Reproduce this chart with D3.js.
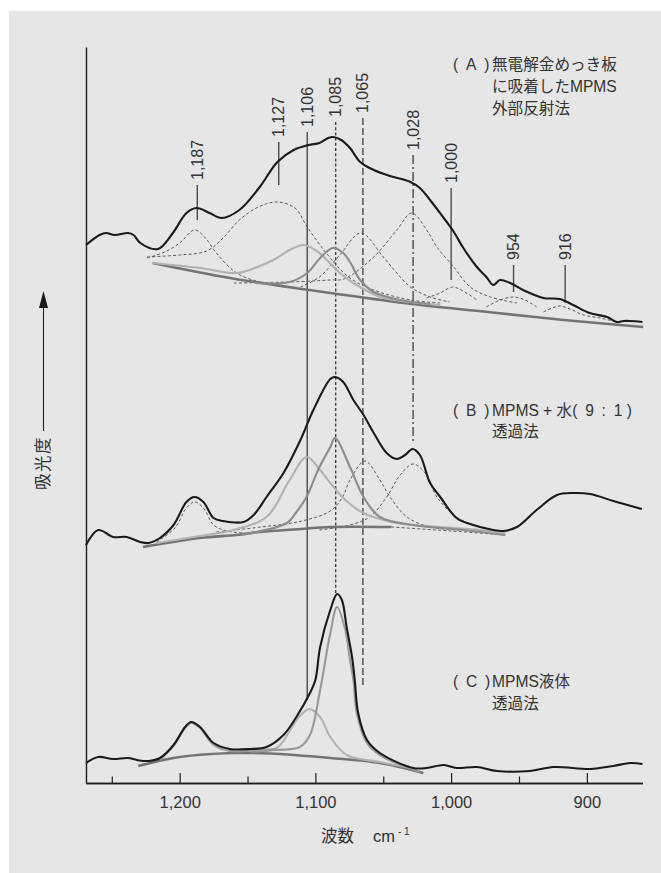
<!DOCTYPE html>
<html>
<head>
<meta charset="utf-8">
<script src="https://cdn.jsdelivr.net/npm/d3@7"></script>
<style>
  html, body { margin: 0; padding: 0; background: #fff; }
  svg { display: block; }
  text { font-family: "Liberation Sans", Arial, "Noto Sans CJK JP", sans-serif; fill: #333; }
</style>
</head>
<body>
<div id="chart"></div>
<script>
// axis ranges (wavenumber cm-1, absorbance in arbitrary units)
const wnDomain = [1269, 859];
const absDomain = [0, 73.6];
const majorTicks = [1200, 1100, 1000, 900];
const minorTicks = [1250, 1150, 1050, 950];

// (A) spectrum, baseline and fitted bands  [wavenumber, absorbance]
const specA = [[1269,53.8],[1259,54.8],[1254,55.0],[1248,54.8],[1238,55.0],[1234,54.8],[1229,54.0],[1216,53.4],[1205,55.0],[1195,57.0],[1187.5,57.5],[1178,57.0],[1169,56.5],[1156,57.3],[1141,59.6],[1128,62.1],[1116,63.3],[1105,63.8],[1097,64.0],[1090.5,64.5],[1087,64.6],[1081,64.3],[1074.5,63.5],[1067,62.1],[1057,61.3],[1045,60.7],[1030,60.1],[1023,59.5],[1015.5,58.3],[1006,56.6],[998,55.1],[991,53.5],[981,51.6],[974,50.6],[969,49.8],[964,50.3],[956.5,50.0],[947,49.3],[932,48.5],[920,48.4],[910,47.8],[898,47.0],[885,46.6],[878,46.1],[873,46.2],[868,46.2],[859,46.1]];
const baseA = [[1220,52.0],[1163,50.5],[1104.5,49.3],[1089,49.0],[1029,47.9],[966,47.0],[917,46.3],[858.5,45.6]];
const bandsA = [
  [[1224,52.5],[1211,53.1],[1200,54.0],[1189,55.3],[1181,54.5],[1173,53.0],[1158,51.0],[1141,50.1],[1126,49.8]],
  [[1224,52.6],[1200,52.8],[1180,53.2],[1168,54.5],[1156,56.3],[1142,57.6],[1128.5,58.1],[1115,57.5],[1106,55.6],[1092,53.0],[1075.5,50.6],[1057,49.3],[1030,48.3],[1008,48.0]],
  [[1111,49.6],[1097,50.6],[1082,52.8],[1066.5,55.0],[1050,52.6],[1040,51.0],[1030,49.6],[1015.5,48.6],[1001,48.1]],
  [[1160,50.0],[1119,50.1],[1089,50.3],[1079,50.4],[1057,52.6],[1040,55.3],[1029,57.0],[1018,55.3],[1010.5,53.6],[998,51.6],[986,49.6],[971,48.6],[951.5,48.0]],
  [[1018,48.5],[1008,49.0],[999,49.6],[990,49.1],[981,48.3]],
  [[974,47.6],[964,48.3],[954,48.6],[945.5,48.3],[937,47.6]],
  [[932,47.1],[925.5,47.5],[920,47.7],[912.5,47.4],[902.5,46.8],[890,46.5],[878,46.1]]
];
const lightA = [[1220,52.0],[1185,51.5],[1158,51.0],[1144.5,51.5],[1131,52.3],[1119,53.3],[1109,53.8],[1100,53.3],[1091.5,52.3],[1082,51.0],[1072,50.0],[1052,48.6],[1030,48.1],[1008,47.8]];
const mediumA = [[1144.5,50.0],[1119,50.1],[1106,51.0],[1096.5,52.5],[1087,53.5],[1079.5,53.0],[1074.5,52.1],[1067,50.3],[1057,49.1],[1037.5,48.3],[1015.5,47.9]];

// (B)
const specB = [[1269,23.8],[1260,25.3],[1249,24.6],[1239,24.6],[1229,24.1],[1223,24.0],[1214.5,24.5],[1204.5,25.8],[1195,28.1],[1189,28.6],[1182.5,28.1],[1175,26.5],[1168,26.2],[1153,26.1],[1145.5,26.8],[1136,28.6],[1123.5,31.0],[1111,34.3],[1101.5,37.3],[1089,40.4],[1085.5,40.6],[1079.5,40.1],[1072,38.3],[1064.5,36.8],[1057,35.0],[1047.5,33.0],[1040,32.4],[1034,32.8],[1028.5,33.4],[1023,32.8],[1015.5,30.0],[1008,28.6],[996,26.5],[986,25.9],[969,25.3],[961.5,25.2],[951.5,25.6],[937,27.3],[922,28.8],[910,29.0],[897.5,28.9],[880.5,28.2],[859.5,27.4]];
const baseB = [[1227,23.6],[1185,24.5],[1158,24.8],[1141,25.1],[1111,25.4],[1089,25.6],[1044,25.6]];
const baseBTail = [[1044,25.6],[1000,25.2],[960,24.8]];
const bandsB = [
  [[1217,24.1],[1203.5,25.5],[1195,27.5],[1189,28.1],[1182.5,27.5],[1175,25.8],[1165.5,25.2],[1152,25.0]],
  [[1173,25.1],[1140,25.6],[1110,26.2],[1089,27.2],[1080,28.6],[1074.5,30.3],[1063.5,32.2],[1052.5,30.3],[1045,28.6],[1032.5,26.6],[1015.5,25.6],[993.5,25.3]],
  [[1097,25.3],[1074.5,25.8],[1060,26.6],[1047.5,28.6],[1037.5,30.8],[1028,31.9],[1018,30.8],[1010.5,28.6],[996,26.6],[978.5,25.6],[960,25.1]]
];
const lightB = [[1217,24.0],[1185,24.7],[1160.5,25.3],[1136,26.6],[1119,30.3],[1106.5,32.6],[1096.5,31.3],[1089,30.0],[1078,28.3],[1064.5,27.0],[1040,26.0],[1008,25.6],[978.5,25.3],[960,25.0]];
const mediumB = [[1155.5,24.8],[1121,26.0],[1114.5,27.0],[1106.5,28.6],[1098,31.3],[1089,33.6],[1085.5,34.5],[1074.5,31.6],[1064.5,28.6],[1052.5,26.6],[1028,25.8],[991,25.3],[960,24.8]];

// (C)
const specC = [[1269,2.0],[1260,2.6],[1249,2.4],[1238,2.5],[1231.5,2.3],[1223,2.2],[1214.5,2.5],[1204.5,3.8],[1196,5.6],[1191.5,6.1],[1185,5.6],[1175,4.0],[1163,3.4],[1148,3.4],[1136,3.6],[1123.5,4.8],[1114,6.6],[1104,9.0],[1100,10.3],[1096.5,13.6],[1089,17.3],[1084,18.9],[1080.5,18.3],[1077,15.6],[1073,12.6],[1071,10.3],[1068.5,7.0],[1062,4.3],[1052.5,3.0],[1028,1.5],[1018,1.5],[1005.5,1.8],[996,1.5],[981,1.6],[966,1.2],[942,1.2],[924.5,1.6],[897.5,1.4],[880.5,1.7],[868,2.0],[859,1.9]];
const baseC = [[1230.5,1.7],[1200,2.6],[1160.5,3.0],[1133.5,2.95],[1089,2.5],[1052.5,2.0],[1020.5,1.0]];
const band1187C = [[1214.5,2.3],[1204.5,3.7],[1196,5.5],[1191.5,6.0],[1185,5.5],[1175,3.8],[1163,3.2],[1144.5,3.25],[1128.5,3.4]];
const lightC = [[1148,3.2],[1128.5,3.5],[1118.5,5.3],[1111.5,6.7],[1104.5,7.4],[1096.5,6.6],[1089,4.6],[1077,2.8],[1052.5,2.1],[1030,1.5]];
const mediumC = [[1148,3.15],[1128.5,3.3],[1111.5,3.6],[1104,4.8],[1096.5,9.3],[1089,15.0],[1084,17.6],[1078,15.3],[1074.5,12.3],[1072,10.3],[1069.5,7.0],[1062,4.0],[1052.5,2.8],[1023,1.1]];

// peak markers
const peakWn = [1187, 1127, 1106, 1085, 1065, 1028, 1000, 954, 916];
const peakLabels = ["1,187", "1,127", "1,106", "1,085", "1,065", "1,028", "1,000", "954", "916"];
const markTop = [59.8, 64.1, 65.1, 66.1, 66.5, 62.8, 59.5, 51.8, 51.8];
const markBottom = [56.3, 59.8, 8.3, 18.9, 9.8, 34.0, 50.3, 49.1, 48.0];

// panel captions (en spaces inside the brackets, as in the original)
const panelTags = ["(\u2002A\u2002)", "(\u2002B\u2002)", "(\u2002C\u2002)"];
const panelText = [["無電解金めっき板", "に吸着したMPMS", "外部反射法"], ["MPMS + 水(\u20029\u2002:\u20021 )", "透過法"], ["MPMS液体", "透過法"]];

const W = 661, H = 873;
const svg = d3.select("#chart").append("svg").attr("width", W).attr("height", H);

svg.append("rect").attr("x", 9).attr("y", 11).attr("width", W - 9).attr("height", H - 11).attr("fill", "#e6e6e6");

const x = d3.scaleLinear().domain(wnDomain).range([86, 642.5]);
const y = d3.scaleLinear().domain(absDomain).range([783, 47]);

const line = d3.line()
  .x(d => x(d[0]))
  .y(d => y(d[1]))
  .curve(d3.curveCatmullRom.alpha(0.5));

// axes
const gMinor = svg.append("g").attr("transform", "translate(0,783)")
  .call(d3.axisBottom(x).tickValues(minorTicks).tickSize(-6.5).tickSizeOuter(0).tickFormat(""));
const gMajor = svg.append("g").attr("transform", "translate(0,783)")
  .call(d3.axisBottom(x).tickValues(majorTicks).tickSize(-10).tickSizeOuter(0).tickPadding(13.6).tickFormat(d3.format(",")));
const gY = svg.append("g").attr("transform", "translate(86,0)")
  .call(d3.axisLeft(y).tickValues([]).tickSizeOuter(0));

[gMinor, gMajor, gY].forEach(g => {
  g.attr("font-family", null).attr("font-size", null);
  g.selectAll("path.domain").attr("stroke", "#1e1e1e").attr("stroke-width", 1.4);
  g.selectAll(".tick line").attr("stroke", "#1e1e1e").attr("stroke-width", 1.2);
});
gMajor.selectAll(".tick text").attr("font-size", 16.5).attr("fill", "#333");

// vertical reference lines through the three spectra
const dashFor = {1106: null, 1085: "3,2.2", 1065: "7,3", 1028: "9,3,2,3"};
svg.append("g").selectAll("line")
  .data(peakWn)
  .enter().append("line")
  .attr("x1", d => x(d)).attr("x2", d => x(d))
  .attr("y1", (d, i) => y(markTop[i]))
  .attr("y2", (d, i) => y(markBottom[i]))
  .attr("stroke", d => d === 1085 ? "#1a1a1a" : "#4a4a4a")
  .attr("stroke-width", d => d === 1085 ? 1.1 : 1.4)
  .attr("stroke-dasharray", d => dashFor[d] || null);

// peak labels
svg.append("g").selectAll("text")
  .data(peakWn)
  .enter().append("text")
  .attr("transform", (d, i) => `translate(${x(d)},${y(markTop[i]) - 5}) rotate(-90)`)
  .attr("dominant-baseline", "central")
  .attr("font-size", 16)
  .text((d, i) => peakLabels[i]);

// fitted bands
function drawDashed(data) {
  svg.append("g").selectAll("path").data(data).enter().append("path")
    .attr("d", line).attr("fill", "none")
    .attr("stroke", "#4d4d4d").attr("stroke-width", 0.9).attr("stroke-dasharray", "3,2.2");
}
function drawCurve(d, color, w) {
  svg.append("path").datum(d).attr("d", line).attr("fill", "none")
    .attr("stroke", color).attr("stroke-width", w).attr("stroke-linejoin", "round");
}

drawDashed(bandsA);
drawDashed(bandsB);
drawDashed([baseBTail]);

drawCurve(baseA, "#737373", 2.6);
drawCurve(baseB, "#737373", 2.6);
drawCurve(baseC, "#737373", 2.6);

drawCurve(lightA, "#b2b2b2", 2.1);
drawCurve(lightB, "#b2b2b2", 2.1);
drawCurve(lightC, "#b2b2b2", 2.1);
drawCurve(band1187C, "#9a9a9a", 2.0);
drawCurve(mediumA, "#8c8c8c", 2.1);
drawCurve(mediumB, "#8c8c8c", 2.1);
drawCurve(mediumC, "#999999", 2.1);

drawCurve(specA, "#1a1a1a", 2.1);
drawCurve(specB, "#1a1a1a", 2.1);
drawCurve(specC, "#1a1a1a", 2.1);

// captions
const capY = [[69.5, 91.5, 113.5], [416, 437], [687, 708.5]];
panelTags.forEach((tag, i) => {
  svg.append("text").attr("x", 453).attr("y", capY[i][0]).attr("font-size", 15.6).text(tag);
  panelText[i].forEach((t, j) => {
    svg.append("text").attr("x", 492).attr("y", capY[i][j]).attr("font-size", 15.6).text(t);
  });
});

// y-axis title with arrow
svg.append("text")
  .attr("transform", "translate(43,463) rotate(-90)")
  .attr("text-anchor", "middle")
  .attr("dominant-baseline", "central")
  .attr("font-size", 16.5)
  .attr("letter-spacing", 1.5)
  .text("吸光度");
svg.append("line").attr("x1", 43.5).attr("x2", 43.5).attr("y1", 431).attr("y2", 306)
  .attr("stroke", "#222").attr("stroke-width", 1.1);
svg.append("path").attr("d", "M43.5,291 L39,308 L48,308 Z").attr("fill", "#1a1a1a");

// x-axis title
const xt = svg.append("text").attr("x", 321).attr("y", 842).attr("font-size", 16.5);
xt.append("tspan").text("波数");
xt.append("tspan").attr("x", 373).text("cm");
xt.append("tspan").attr("dx", 3).attr("dy", -7).attr("font-size", 10).text("- 1");
</script>
</body>
</html>
